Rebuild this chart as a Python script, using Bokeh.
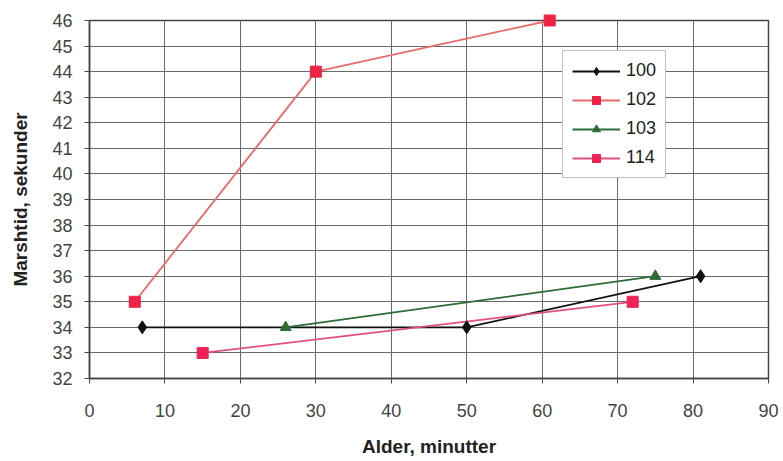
from bokeh.plotting import figure
from bokeh.models import Range1d, SingleIntervalTicker, Legend, LegendItem
from bokeh.embed import file_html
from bokeh.resources import INLINE

# Data
x_100 = [7, 50, 81]
y_100 = [34, 34, 36]
x_102 = [6, 30, 61]
y_102 = [35, 44, 46]
x_103 = [26, 75]
y_103 = [34, 36]
x_114 = [15, 72]
y_114 = [33, 35]

x_label = "Alder, minutter"
y_label = "Marshtid, sekunder"

FONT = "Liberation Sans"

p = figure(width=783, height=461, output_backend="svg", toolbar_location=None,
           x_range=Range1d(0, 90), y_range=Range1d(32, 46),
           min_border_left=89, min_border_right=15, min_border_top=20, min_border_bottom=83)

p.background_fill_color = "white"
p.border_fill_color = "white"
p.outline_line_color = "#444444"
p.outline_line_width = 1.5

p.xaxis.ticker = SingleIntervalTicker(interval=10)
p.yaxis.ticker = SingleIntervalTicker(interval=1)
for ax in (p.xaxis[0], p.yaxis[0]):
    ax.axis_line_color = "#444444"
    ax.axis_line_width = 1.5
    ax.major_tick_line_color = "#444444"
    ax.major_tick_in = 0
    ax.major_tick_out = 5
    ax.minor_tick_line_color = None
    ax.major_label_text_font = FONT
    ax.major_label_text_font_size = "18px"
    ax.major_label_text_color = "#444444"
    ax.axis_label_text_font = FONT
    ax.axis_label_text_font_size = "19px"
    ax.axis_label_text_font_style = "bold"
    ax.axis_label_text_color = "#222222"

p.xaxis.axis_label = x_label
p.yaxis.axis_label = y_label
p.xaxis.major_label_standoff = 20
p.xaxis.axis_label_standoff = 16
p.yaxis.major_label_standoff = 12
p.yaxis.axis_label_standoff = 18

p.xgrid.grid_line_color = "#6a6a6a"
p.ygrid.grid_line_color = "#6a6a6a"
p.xgrid.grid_line_width = 1
p.ygrid.grid_line_width = 1
p.xgrid.ticker = SingleIntervalTicker(interval=10)
p.ygrid.ticker = SingleIntervalTicker(interval=1)

series = [
    ("100", x_100, y_100, "#111111", "#111111", "diamond", 13),
    ("102", x_102, y_102, "#e86a6a", "#ee2244", "square", 11),
    ("103", x_103, y_103, "#2e6b35", "#2e6b35", "triangle", 11),
    ("114", x_114, y_114, "#e0507e", "#ee2255", "square", 11),
]

items = []
for name, xs, ys, lc, mc, mk, sz in series:
    l = p.line(xs, ys, line_color=lc, line_width=1.8)
    s = p.scatter(xs, ys, marker=mk, size=sz, fill_color=mc, line_color=mc, level="overlay")
    items.append(LegendItem(label=name, renderers=[l, s]))

legend = Legend(items=items, location=(473, 200))
legend.label_text_font = FONT
legend.label_text_font_size = "18px"
legend.label_text_color = "#222222"
legend.glyph_width = 48
legend.glyph_height = 20
legend.label_height = 20
legend.spacing = 8
legend.padding = 9
legend.label_standoff = 6
legend.border_line_color = "#888888"
legend.background_fill_color = "white"
legend.background_fill_alpha = 1
p.add_layout(legend, "center")

open("out.html", "w").write(file_html(p, INLINE))
